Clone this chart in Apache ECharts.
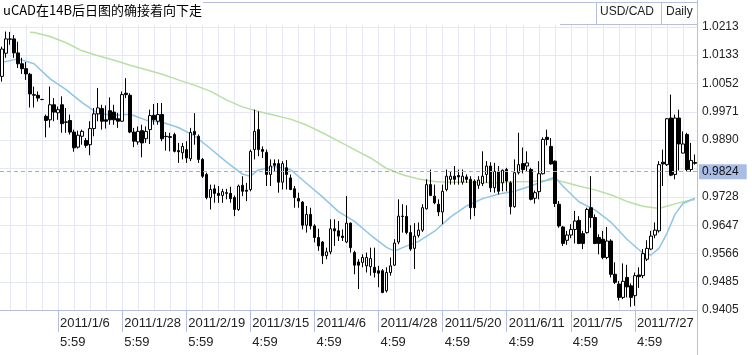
<!DOCTYPE html>
<html>
<head>
<meta charset="utf-8">
<title>USD/CAD Daily</title>
<script src="https://cdn.jsdelivr.net/npm/echarts@6/dist/echarts.min.js"></script>
<style>
  html, body { margin: 0; padding: 0; background: #fff; }
  #main { width: 752px; height: 355px; }
</style>
</head>
<body>
<div id="main"></div>
<script>
// daily candles, [k] = one trading day
var opens = [
  1.0072,1.0138,1.0178,1.0179,1.0139,1.0108,1.0094,1.0078,1.0018,1.0018,1.0006,0.9958,0.9948,0.9991,0.9968,0.9991,
  0.9942,0.9946,0.9913,0.9870,0.9901,0.9889,0.9877,0.9923,0.9965,0.9980,0.9948,0.9974,0.9970,0.9951,0.9944,1.0024,
  1.0018,0.9913,0.9885,0.9917,0.9894,0.9920,0.9961,0.9944,0.9963,0.9901,0.9900,0.9906,0.9860,0.9854,0.9863,0.9837,
  0.9915,0.9901,0.9835,0.9792,0.9726,0.9751,0.9738,0.9732,0.9740,0.9738,0.9726,0.9692,0.9761,0.9747,0.9749,0.9863,
  0.9920,0.9863,0.9855,0.9792,0.9823,0.9823,0.9770,0.9811,0.9782,0.9751,0.9723,0.9713,0.9647,0.9678,0.9645,0.9612,
  0.9599,0.9560,0.9571,0.9637,0.9631,0.9616,0.9599,0.9653,0.9569,0.9542,0.9541,0.9531,0.9529,0.9527,0.9517,0.9517,
  0.9460,0.9512,0.9533,0.9599,0.9673,0.9672,0.9626,0.9581,0.9618,0.9633,0.9694,0.9763,0.9730,0.9707,0.9685,0.9749,
  0.9778,0.9787,0.9789,0.9770,0.9785,0.9778,0.9773,0.9761,0.9766,0.9792,0.9816,0.9754,0.9801,0.9768,0.9806,0.9768,
  0.9700,0.9797,0.9823,0.9816,0.9806,0.9724,0.9743,0.9794,0.9898,0.9872,0.9830,0.9707,0.9642,0.9604,0.9619,0.9635,
  0.9661,0.9623,0.9626,0.9697,0.9669,0.9612,0.9607,0.9555,0.9602,0.9507,0.9479,0.9441,0.9498,0.9474,0.9446,0.9505,
  0.9503,0.9550,0.9579,0.9619,0.9631,0.9827,0.9820,0.9953,0.9792,0.9953,0.9853,0.9906,0.9806,0.9826
];
var closes = [
  1.0150,1.0179,1.0179,1.0139,1.0108,1.0094,1.0079,1.0022,1.0020,1.0010,1.0006,0.9946,0.9991,0.9970,0.9977,0.9937,
  0.9941,0.9913,0.9868,0.9904,0.9915,0.9875,0.9923,0.9965,0.9982,0.9944,0.9944,0.9948,0.9948,0.9944,1.0020,1.0020,
  0.9913,0.9887,0.9915,0.9882,0.9915,0.9960,0.9948,0.9963,0.9894,0.9900,0.9898,0.9858,0.9857,0.9872,0.9839,0.9912,
  0.9906,0.9835,0.9787,0.9726,0.9749,0.9738,0.9732,0.9743,0.9738,0.9723,0.9692,0.9759,0.9744,0.9744,0.9858,0.9915,
  0.9863,0.9858,0.9792,0.9816,0.9818,0.9770,0.9823,0.9792,0.9749,0.9726,0.9716,0.9647,0.9678,0.9645,0.9612,0.9588,
  0.9560,0.9571,0.9637,0.9631,0.9616,0.9612,0.9653,0.9583,0.9533,0.9533,0.9555,0.9555,0.9552,0.9512,0.9510,0.9455,
  0.9512,0.9531,0.9596,0.9673,0.9672,0.9626,0.9579,0.9616,0.9633,0.9697,0.9763,0.9732,0.9711,0.9685,0.9744,0.9787,
  0.9787,0.9778,0.9785,0.9787,0.9778,0.9697,0.9697,0.9776,0.9787,0.9816,0.9754,0.9801,0.9744,0.9804,0.9773,0.9700,
  0.9797,0.9820,0.9806,0.9825,0.9721,0.9740,0.9794,0.9892,0.9892,0.9822,0.9709,0.9645,0.9595,0.9619,0.9635,0.9659,
  0.9595,0.9595,0.9692,0.9669,0.9595,0.9595,0.9555,0.9602,0.9507,0.9484,0.9441,0.9487,0.9471,0.9441,0.9503,0.9500,
  0.9566,0.9581,0.9616,0.9633,0.9820,0.9822,0.9951,0.9790,0.9953,0.9879,0.9879,0.9806,0.9832,0.9824
];
var lows = [
  1.0057,1.0125,1.0162,1.0125,1.0096,1.0079,1.0062,0.9983,0.9983,1.0000,1.0004,0.9898,0.9926,0.9944,0.9948,0.9911,
  0.9911,0.9906,0.9857,0.9866,0.9877,0.9868,0.9847,0.9901,0.9944,0.9920,0.9923,0.9934,0.9934,0.9925,0.9942,1.0010,
  0.9910,0.9870,0.9877,0.9841,0.9882,0.9879,0.9934,0.9934,0.9887,0.9860,0.9858,0.9855,0.9825,0.9835,0.9825,0.9830,
  0.9877,0.9825,0.9782,0.9721,0.9692,0.9711,0.9711,0.9711,0.9721,0.9711,0.9673,0.9688,0.9730,0.9716,0.9744,0.9835,
  0.9844,0.9839,0.9759,0.9759,0.9801,0.9740,0.9749,0.9749,0.9747,0.9697,0.9697,0.9635,0.9626,0.9635,0.9598,0.9574,
  0.9536,0.9550,0.9564,0.9588,0.9602,0.9602,0.9596,0.9569,0.9507,0.9465,0.9527,0.9512,0.9503,0.9498,0.9470,0.9453,
  0.9455,0.9503,0.9531,0.9593,0.9626,0.9621,0.9574,0.9522,0.9612,0.9628,0.9692,0.9730,0.9707,0.9673,0.9650,0.9744,
  0.9763,0.9763,0.9763,0.9763,0.9768,0.9664,0.9673,0.9751,0.9759,0.9768,0.9742,0.9740,0.9735,0.9744,0.9744,0.9678,
  0.9697,0.9792,0.9795,0.9801,0.9718,0.9709,0.9721,0.9792,0.9875,0.9820,0.9699,0.9640,0.9588,0.9591,0.9610,0.9595,
  0.9593,0.9579,0.9623,0.9640,0.9593,0.9564,0.9550,0.9550,0.9498,0.9479,0.9432,0.9436,0.9441,0.9414,0.9417,0.9468,
  0.9496,0.9545,0.9576,0.9610,0.9626,0.9759,0.9816,0.9787,0.9778,0.9803,0.9852,0.9801,0.9800,0.9820
];
var highs = [
  1.0157,1.0200,1.0199,1.0190,1.0171,1.0125,1.0113,1.0082,1.0043,1.0029,1.0008,0.9963,1.0043,1.0010,0.9986,1.0015,
  0.9982,0.9963,0.9920,0.9917,0.9920,0.9896,0.9944,0.9982,1.0039,0.9991,0.9989,1.0012,0.9991,0.9968,1.0029,1.0067,
  1.0024,0.9925,0.9929,0.9934,0.9929,0.9977,0.9993,0.9996,0.9996,0.9913,0.9911,0.9911,0.9882,0.9882,0.9887,0.9925,
  0.9967,0.9906,0.9839,0.9797,0.9763,0.9763,0.9759,0.9751,0.9751,0.9757,0.9732,0.9763,0.9787,0.9768,0.9863,0.9977,
  0.9972,0.9872,0.9863,0.9835,0.9835,0.9835,0.9830,0.9833,0.9792,0.9759,0.9740,0.9716,0.9702,0.9697,0.9650,0.9637,
  0.9602,0.9583,0.9664,0.9664,0.9659,0.9635,0.9730,0.9655,0.9574,0.9550,0.9564,0.9569,0.9583,0.9583,0.9531,0.9522,
  0.9527,0.9555,0.9607,0.9721,0.9707,0.9704,0.9647,0.9653,0.9655,0.9707,0.9778,0.9806,0.9763,0.9721,0.9763,0.9806,
  0.9801,0.9816,0.9806,0.9806,0.9792,0.9787,0.9778,0.9787,0.9858,0.9830,0.9827,0.9825,0.9816,0.9806,0.9811,0.9773,
  0.9835,0.9911,0.9869,0.9858,0.9811,0.9746,0.9830,0.9898,0.9920,0.9896,0.9832,0.9716,0.9645,0.9631,0.9650,0.9688,
  0.9673,0.9631,0.9697,0.9787,0.9678,0.9621,0.9631,0.9642,0.9607,0.9541,0.9488,0.9538,0.9534,0.9481,0.9512,0.9527,
  0.9579,0.9604,0.9631,0.9655,0.9830,0.9863,0.9953,1.0020,0.9963,0.9977,0.9915,0.9911,0.9882,0.9849
];

// moving averages, [candle index, value]
var maFast = [
  [0,1.0112],[4,1.0122],[8,1.0108],[12,1.0065],[16,1.0034],[20,0.9997],[24,0.9966],[28,0.9961],
  [32,0.9964],[36,0.9947],[40,0.9941],[44,0.9926],[48,0.9903],[52,0.9866],[56,0.9828],[60,0.9793],
  [62,0.9787],[64,0.9805],[68,0.9815],[72,0.9806],[76,0.9767],[80,0.9728],[84,0.9686],[88,0.9658],
  [92,0.9619],[96,0.9584],[98,0.9573],[100,0.9583],[104,0.9601],[108,0.9630],[112,0.9671],[116,0.9702],
  [120,0.9723],[124,0.9736],[128,0.9744],[132,0.9759],[136,0.9776],[138,0.9784],[140,0.9759],[144,0.9714],
  [148,0.9691],[152,0.9656],[156,0.9607],[160,0.9567],[162,0.9562],[164,0.9581],[166,0.9624],[168,0.9678],
  [170,0.9709],[172,0.9719],[173,0.9724]
];
var maSlow = [
  [7,1.0198],[8,1.0197],[12,1.0186],[16,1.0168],[20,1.0145],[24,1.0131],[28,1.0118],[32,1.0104],
  [36,1.0091],[40,1.0078],[44,1.0062],[48,1.0047],[52,1.0030],[56,1.0005],[60,0.9985],[64,0.9972],
  [68,0.9961],[72,0.9950],[76,0.9933],[80,0.9911],[84,0.9887],[88,0.9863],[92,0.9839],[96,0.9809],
  [100,0.9791],[104,0.9779],[108,0.9772],[112,0.9770],[116,0.9770],[120,0.9769],[124,0.9768],[128,0.9771],
  [132,0.9772],[136,0.9775],[138,0.9778],[140,0.9771],[144,0.9759],[148,0.9748],[152,0.9734],[156,0.9715],
  [160,0.9701],[164,0.9695],[168,0.9708],[172,0.9719],[173,0.9720]
];

var yTicks = [0.9405, 0.9485, 0.9566, 0.9647, 0.9728, 0.9809, 0.9890, 0.9971, 1.0052, 1.0133, 1.0213];
var yLabels = [0.9405, 0.9485, 0.9566, 0.9647, 0.9728, 0.9890, 0.9971, 1.0052, 1.0133, 1.0213];
var tickDates = ['2011/1/6', '2011/1/28', '2011/2/19', '2011/3/15', '2011/4/6',
                 '2011/4/28', '2011/5/20', '2011/6/11', '2011/7/5', '2011/7/27'];
var tickTimes = ['5:59', '5:59', '5:59', '4:59', '4:59', '4:59', '4:59', '4:59', '4:59', '4:59'];
var firstTick = 14, tickStep = 16;
var lastPrice = closes[closes.length - 1];

var candles = opens.map(function (o, i) { return [o, closes[i], lows[i], highs[i]]; });
var cats = opens.map(function (o, i) { return String(i); });

function isTick(i) {
    return i >= firstTick && (i - firstTick) % tickStep === 0;
}

var latin = 'Liberation Sans, Arial, sans-serif';
var gridColor = '#e6e7f4';
var frameColor = '#b4c0dc';

var chart = echarts.init(document.getElementById('main'));

var option = {
    animation: false,
    backgroundColor: '#fff',
    title: [
        {
            text: 'uCAD在14B后日图的确接着向下走',
            left: 3, top: 4, padding: 0,
            textStyle: { fontSize: 13, fontWeight: 'normal', color: '#000', fontFamily: 'Noto Sans CJK SC' }
        },
        {
            text: 'USD/CAD', left: 600, top: 6, padding: 0,
            textStyle: { fontSize: 12, fontWeight: 'normal', color: '#222', fontFamily: latin }
        },
        {
            text: 'Daily', left: 666, top: 6, padding: 0,
            textStyle: { fontSize: 12, fontWeight: 'normal', color: '#222', fontFamily: latin }
        }
    ],
    graphic: [
        { type: 'line', shape: { x1: 203, y1: 2.5, x2: 697, y2: 2.5 }, style: { stroke: frameColor, lineWidth: 1 } },
        { type: 'line', shape: { x1: 560, y1: 24.5, x2: 697, y2: 24.5 }, style: { stroke: frameColor, lineWidth: 1 } },
        { type: 'line', shape: { x1: 596.5, y1: 2, x2: 596.5, y2: 24 }, style: { stroke: frameColor, lineWidth: 1 } },
        { type: 'line', shape: { x1: 661.5, y1: 2, x2: 661.5, y2: 24 }, style: { stroke: frameColor, lineWidth: 1 } },
        { type: 'line', shape: { x1: 697.5, y1: 0, x2: 697.5, y2: 355 }, style: { stroke: frameColor, lineWidth: 1 } }
    ],
    grid: { left: 0, right: 55, top: 25, bottom: 45 },
    xAxis: {
        type: 'category',
        data: cats,
        boundaryGap: true,
        axisLine: { show: true, lineStyle: { color: frameColor } },
        axisTick: {
            show: true, alignWithLabel: true, length: 22,
            interval: function (i) { return isTick(i); },
            lineStyle: { color: frameColor }
        },
        axisLabel: {
            interval: function (i) { return isTick(i); },
            formatter: function (v, i) {
                var n = (i - firstTick) / tickStep;
                return tickDates[n] + '\n' + tickTimes[n];
            },
            align: 'left', verticalAlign: 'top', margin: 4, padding: [0, 0, 0, 2],
            lineHeight: 19, fontSize: 13, color: '#222', fontFamily: latin
        },
        splitLine: {
            show: true, alignWithLabel: true,
            interval: function (i) { return i % 4 === 2; },
            lineStyle: { color: gridColor, width: 1 }
        }
    },
    yAxis: {
        type: 'value',
        position: 'right',
        min: 0.9405,
        max: 1.02187,
        scale: true,
        axisLine: { show: true, lineStyle: { color: frameColor } },
        axisTick: { show: false, customValues: yTicks },
        axisLabel: {
            customValues: yLabels,
            formatter: function (v) { return v.toFixed(4); },
            margin: 5, padding: [0, 0, 3, 0],
            fontSize: 12, color: '#222', fontFamily: latin
        },
        splitLine: { show: true, lineStyle: { color: gridColor, width: 1 } }
    },
    series: [
        {
            name: 'MA slow',
            type: 'line',
            data: maSlow,
            symbol: 'none',
            z: 2,
            lineStyle: { color: '#b7e0a2', width: 1.5 }
        },
        {
            name: 'MA fast',
            type: 'line',
            data: maFast,
            symbol: 'none',
            z: 2,
            lineStyle: { color: '#8fc6e6', width: 1.5 }
        },
        {
            name: 'USD/CAD',
            type: 'candlestick',
            data: candles,
            barWidth: 3,
            z: 3,
            itemStyle: {
                color: '#fff', color0: '#000',
                borderColor: '#000', borderColor0: '#000', borderWidth: 1
            },
            markLine: {
                silent: true,
                symbol: ['none', 'none'],
                data: [{ yAxis: lastPrice }],
                lineStyle: { type: [4, 3], color: '#a3aac6', width: 1 },
                label: {
                    show: true, position: 'end', distance: 2,
                    formatter: lastPrice.toFixed(4),
                    backgroundColor: '#a9bce6', color: '#111',
                    padding: [2, 8, 1, 3], fontSize: 12, fontFamily: latin
                },
                emphasis: { disabled: true }
            }
        }
    ]
};

chart.setOption(option);
</script>
</body>
</html>
